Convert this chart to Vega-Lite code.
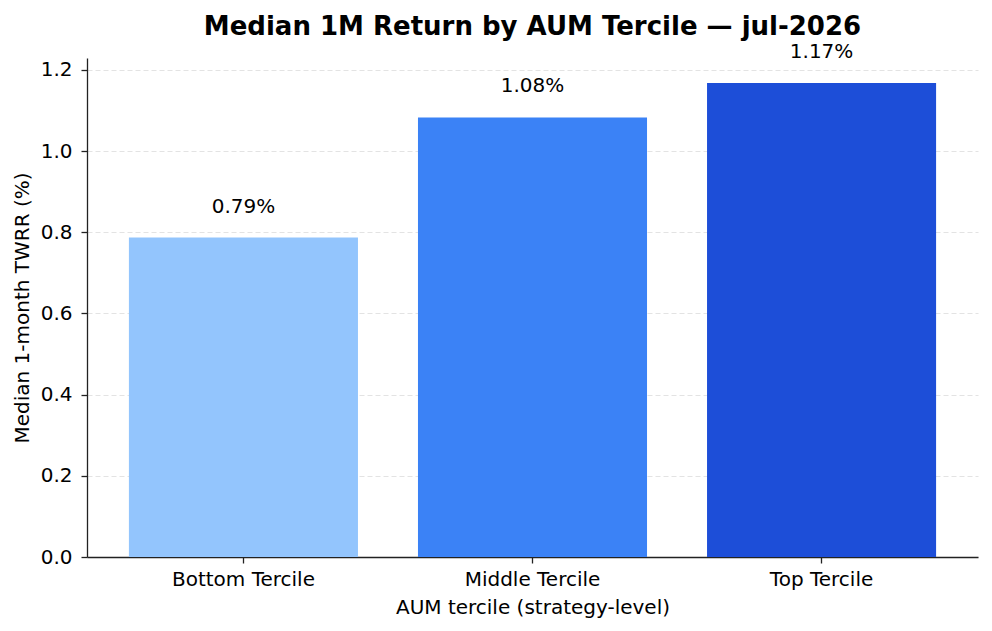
{
  "$schema": "https://vega.github.io/schema/vega-lite/v6.json",
  "autosize": "none",
  "padding": {"left": 87, "top": 58, "right": 14, "bottom": 74},
  "width": 891,
  "height": 499,
  "background": "white",
  "title": {
    "text": "Median 1M Return by AUM Tercile — jul-2026",
    "font": "DejaVu Sans",
    "fontSize": 26,
    "fontWeight": "bold",
    "color": "black",
    "anchor": "middle",
    "offset": 2
  },
  "data": {
    "values": [
      {"tercile": "Bottom Tercile", "twrr": 0.787, "label": "0.79%"},
      {"tercile": "Middle Tercile", "twrr": 1.083, "label": "1.08%"},
      {"tercile": "Top Tercile", "twrr": 1.168, "label": "1.17%"}
    ]
  },
  "encoding": {
    "x": {
      "field": "tercile",
      "type": "nominal",
      "sort": null,
      "title": "AUM tercile (strategy-level)",
      "scale": {"paddingInner": 0.2076, "paddingOuter": 0.145},
      "axis": {
        "labelAngle": 0,
        "labelPadding": 6,
        "titlePadding": 8,
        "tickSize": 6,
        "grid": false
      }
    },
    "y": {
      "field": "twrr",
      "type": "quantitative",
      "title": "Median 1-month TWRR (%)",
      "scale": {"domain": [0, 1.2295], "nice": false, "zero": true},
      "axis": {
        "values": [0, 0.2, 0.4, 0.6, 0.8, 1.0, 1.2],
        "format": ".1f",
        "grid": true,
        "gridColor": "#e3e3e3",
        "gridDash": [5, 3],
        "gridWidth": 1,
        "tickSize": 6,
        "labelPadding": 9,
        "titlePadding": 8
      }
    }
  },
  "layer": [
    {
      "mark": {"type": "bar"},
      "encoding": {
        "color": {
          "field": "tercile",
          "type": "nominal",
          "sort": null,
          "scale": {"range": ["#93c5fd", "#3b82f6", "#1d4ed8"]},
          "legend": null
        }
      }
    },
    {
      "mark": {
        "type": "text",
        "baseline": "alphabetic",
        "dy": -25,
        "font": "DejaVu Sans",
        "fontSize": 20,
        "color": "black"
      },
      "encoding": {"text": {"field": "label"}}
    }
  ],
  "config": {
    "view": {"stroke": null},
    "font": "DejaVu Sans",
    "axis": {
      "domainColor": "#222222",
      "domainWidth": 1.3,
      "tickColor": "#222222",
      "tickWidth": 1.3,
      "labelColor": "black",
      "titleColor": "black",
      "labelFont": "DejaVu Sans",
      "titleFont": "DejaVu Sans",
      "labelFontSize": 20,
      "titleFontSize": 20,
      "titleFontWeight": "normal"
    }
  }
}
